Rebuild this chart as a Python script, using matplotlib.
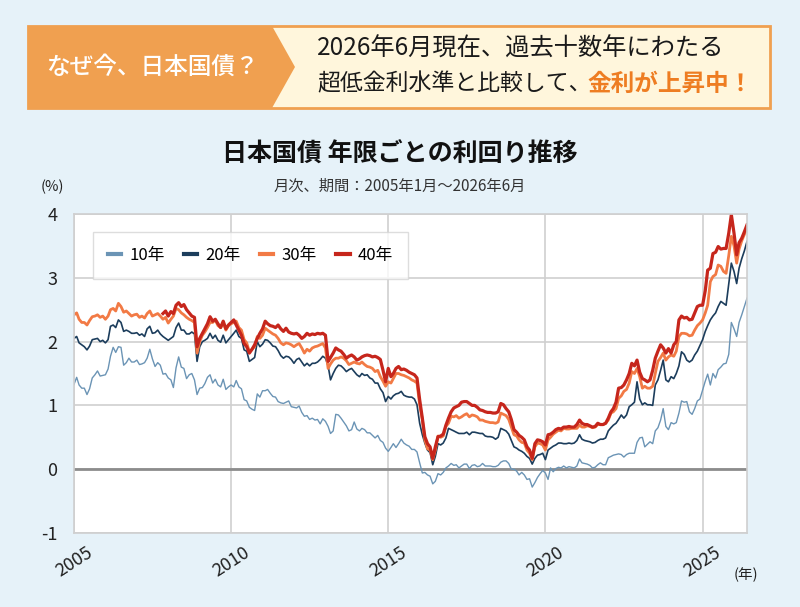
import numpy as np
import pandas as pd
import matplotlib
matplotlib.use("Agg")
import matplotlib.pyplot as plt
import matplotlib.dates as mdates
from matplotlib.patches import Polygon, Rectangle

plt.rcParams['font.family'] = ['Noto Sans CJK JP', 'DejaVu Sans']
plt.rcParams['axes.unicode_minus'] = False

# monthly yields (%), Jan 2005 - Jun 2026
y10 = [
    1.33, 1.44, 1.32, 1.27, 1.27, 1.17, 1.26, 1.43, 1.48, 1.54, 1.46, 1.47,  # 2005
    1.48, 1.57, 1.77, 1.91, 1.83, 1.92, 1.91, 1.63, 1.67, 1.74, 1.68, 1.68,  # 2006
    1.71, 1.64, 1.65, 1.67, 1.74, 1.88, 1.73, 1.61, 1.67, 1.63, 1.49, 1.50,  # 2007
    1.43, 1.40, 1.28, 1.59, 1.76, 1.60, 1.58, 1.42, 1.48, 1.50, 1.40, 1.17,  # 2008
    1.27, 1.28, 1.34, 1.44, 1.48, 1.35, 1.41, 1.32, 1.29, 1.41, 1.25, 1.29,  # 2009
    1.32, 1.29, 1.39, 1.29, 1.26, 1.09, 1.07, 0.97, 0.94, 0.92, 1.18, 1.13,  # 2010
    1.23, 1.23, 1.25, 1.19, 1.14, 1.13, 1.06, 1.04, 1.03, 1.05, 1.07, 0.98,  # 2011
    0.97, 0.96, 0.99, 0.89, 0.83, 0.84, 0.78, 0.80, 0.77, 0.78, 0.71, 0.79,  # 2012
    0.75, 0.67, 0.56, 0.60, 0.86, 0.85, 0.80, 0.74, 0.68, 0.60, 0.62, 0.74,  # 2013
    0.63, 0.60, 0.64, 0.62, 0.57, 0.57, 0.53, 0.49, 0.53, 0.45, 0.42, 0.33,  # 2014
    0.28, 0.34, 0.40, 0.34, 0.40, 0.47, 0.41, 0.38, 0.36, 0.31, 0.31, 0.27,  # 2015
    0.10, -0.06, -0.05, -0.09, -0.11, -0.23, -0.19, -0.07, -0.09, -0.05, 0.02, 0.05,  # 2016
    0.09, 0.06, 0.07, 0.02, 0.05, 0.08, 0.08, 0.01, 0.06, 0.07, 0.04, 0.05,  # 2017
    0.09, 0.05, 0.05, 0.05, 0.04, 0.04, 0.06, 0.11, 0.13, 0.13, 0.09, 0.00,  # 2018
    0.00, -0.03, -0.09, -0.05, -0.09, -0.16, -0.15, -0.28, -0.21, -0.13, -0.07, -0.02,  # 2019
    -0.06, -0.16, 0.02, -0.04, 0.01, 0.03, 0.02, 0.05, 0.02, 0.04, 0.03, 0.02,  # 2020
    0.05, 0.16, 0.10, 0.09, 0.08, 0.06, 0.02, 0.03, 0.07, 0.10, 0.07, 0.07,  # 2021
    0.18, 0.20, 0.22, 0.23, 0.24, 0.23, 0.19, 0.23, 0.25, 0.25, 0.25, 0.42,  # 2022
    0.49, 0.50, 0.35, 0.39, 0.43, 0.40, 0.60, 0.65, 0.77, 0.95, 0.67, 0.62,  # 2023
    0.73, 0.71, 0.73, 0.88, 1.07, 1.05, 1.06, 0.90, 0.86, 0.95, 1.07, 1.10,  # 2024
    1.24, 1.38, 1.49, 1.32, 1.50, 1.43, 1.56, 1.60, 1.65, 1.66, 1.80, 2.30,  # 2025
    2.20, 2.08, 2.30, 2.42, 2.55, 2.68,  # 2026
]

y20 = [
    2.05, 2.08, 1.98, 1.95, 1.92, 1.87, 1.93, 2.03, 2.04, 2.05, 2.00, 2.02,
    1.98, 2.03, 2.24, 2.26, 2.22, 2.34, 2.30, 2.16, 2.18, 2.16, 2.13, 2.13,
    2.14, 2.10, 2.12, 2.08, 2.20, 2.24, 2.13, 2.14, 2.18, 2.12, 2.08, 2.05,
    2.02, 2.05, 2.08, 2.22, 2.29, 2.18, 2.18, 2.12, 2.12, 2.15, 2.12, 1.69,
    1.92, 2.00, 2.02, 2.05, 2.13, 2.05, 2.10, 2.02, 1.99, 2.10, 1.98, 2.03,
    2.08, 2.13, 2.18, 2.08, 2.05, 1.87, 1.85, 1.69, 1.72, 1.75, 2.00, 1.92,
    1.96, 2.03, 2.02, 1.98, 1.93, 1.92, 1.86, 1.78, 1.74, 1.77, 1.76, 1.72,
    1.66, 1.72, 1.74, 1.68, 1.62, 1.66, 1.62, 1.66, 1.66, 1.68, 1.72, 1.77,
    1.74, 1.62, 1.40, 1.50, 1.58, 1.63, 1.62, 1.58, 1.53, 1.56, 1.58, 1.53,
    1.48, 1.45, 1.50, 1.47, 1.48, 1.43, 1.41, 1.35, 1.35, 1.26, 1.20, 1.06,
    1.14, 1.10, 1.15, 1.18, 1.19, 1.22, 1.16, 1.14, 1.13, 1.13, 1.10, 1.01,
    0.72, 0.54, 0.41, 0.30, 0.26, 0.07, 0.20, 0.40, 0.38, 0.41, 0.49, 0.64,
    0.62, 0.60, 0.58, 0.56, 0.56, 0.56, 0.58, 0.54, 0.58, 0.58, 0.57, 0.56,
    0.56, 0.52, 0.51, 0.51, 0.50, 0.47, 0.50, 0.64, 0.62, 0.60, 0.55, 0.45,
    0.35, 0.33, 0.30, 0.28, 0.25, 0.20, 0.17, 0.08, 0.17, 0.22, 0.23, 0.25,
    0.15, 0.30, 0.33, 0.36, 0.38, 0.41, 0.41, 0.40, 0.40, 0.41, 0.40, 0.41,
    0.45, 0.54, 0.47, 0.45, 0.44, 0.43, 0.41, 0.42, 0.45, 0.47, 0.47, 0.49,
    0.60, 0.65, 0.69, 0.72, 0.78, 0.85, 0.80, 0.85, 0.98, 1.01, 1.05, 1.37,
    1.10, 1.01, 1.04, 1.01, 1.01, 1.00, 1.32, 1.40, 1.55, 1.71, 1.40, 1.37,
    1.45, 1.42, 1.50, 1.62, 1.84, 1.80, 1.71, 1.68, 1.71, 1.79, 1.85, 1.94,
    2.03, 2.16, 2.25, 2.34, 2.40, 2.45, 2.55, 2.63, 2.60, 2.57, 2.90, 3.23,
    3.10, 2.91, 3.15, 3.30, 3.42, 3.57,
]

y30 = [
    2.42, 2.45, 2.35, 2.30, 2.30, 2.26, 2.33, 2.39, 2.40, 2.42, 2.38, 2.40,
    2.35, 2.40, 2.50, 2.52, 2.48, 2.60, 2.55, 2.46, 2.48, 2.44, 2.40, 2.42,
    2.43, 2.38, 2.40, 2.37, 2.44, 2.48, 2.40, 2.42, 2.44, 2.40, 2.35, 2.38,
    2.29, 2.35, 2.40, 2.52, 2.50, 2.45, 2.42, 2.38, 2.35, 2.33, 2.30, 1.82,
    2.00, 2.10, 2.15, 2.22, 2.30, 2.30, 2.34, 2.25, 2.22, 2.30, 2.18, 2.25,
    2.28, 2.30, 2.32, 2.22, 2.18, 2.03, 1.98, 1.84, 1.88, 1.92, 2.08, 2.05,
    2.10, 2.21, 2.18, 2.15, 2.12, 2.10, 2.05, 1.98, 1.95, 1.98, 1.97, 1.95,
    1.92, 1.95, 1.97, 1.90, 1.82, 1.88, 1.85, 1.90, 1.92, 1.93, 1.95, 1.97,
    1.90, 1.58, 1.65, 1.71, 1.74, 1.74, 1.76, 1.74, 1.70, 1.64, 1.66, 1.68,
    1.66, 1.65, 1.68, 1.64, 1.61, 1.60, 1.58, 1.53, 1.55, 1.45, 1.38, 1.30,
    1.37, 1.35, 1.42, 1.50, 1.50, 1.48, 1.47, 1.45, 1.43, 1.40, 1.38, 1.35,
    1.01, 0.78, 0.46, 0.32, 0.30, 0.15, 0.30, 0.52, 0.50, 0.52, 0.67, 0.72,
    0.83, 0.82, 0.84, 0.80, 0.82, 0.85, 0.87, 0.82, 0.85, 0.84, 0.82, 0.77,
    0.77, 0.75, 0.74, 0.73, 0.73, 0.72, 0.74, 0.88, 0.86, 0.84, 0.78, 0.66,
    0.54, 0.52, 0.46, 0.42, 0.41, 0.30, 0.25, 0.15, 0.35, 0.41, 0.40, 0.38,
    0.30, 0.46, 0.50, 0.55, 0.58, 0.61, 0.60, 0.64, 0.63, 0.63, 0.64, 0.64,
    0.64, 0.69, 0.66, 0.66, 0.68, 0.67, 0.65, 0.66, 0.70, 0.70, 0.70, 0.72,
    0.77, 0.88, 0.90, 0.95, 1.11, 1.15, 1.22, 1.25, 1.35, 1.53, 1.50, 1.58,
    1.45, 1.27, 1.30, 1.27, 1.27, 1.30, 1.50, 1.69, 1.75, 1.82, 1.71, 1.76,
    1.79, 1.77, 1.85, 2.08, 2.13, 2.13, 2.12, 2.09, 2.10, 2.18, 2.25, 2.29,
    2.34, 2.45, 2.57, 2.94, 3.02, 3.05, 3.20, 3.18, 3.10, 3.07, 3.35, 3.65,
    3.50, 3.23, 3.45, 3.58, 3.68, 3.78,
]

# 40-year bond starts Nov 2007
y40 = [
    2.44, 2.48,  # 2007 Nov-Dec
    2.40, 2.47, 2.44, 2.57, 2.61, 2.55, 2.58, 2.50, 2.45, 2.40, 2.38, 1.92,
    2.05, 2.13, 2.20, 2.28, 2.39, 2.32, 2.35, 2.28, 2.22, 2.32, 2.20, 2.26,
    2.30, 2.34, 2.26, 2.18, 2.10, 1.97, 1.92, 1.82, 1.88, 1.95, 2.05, 2.13,
    2.20, 2.32, 2.28, 2.25, 2.24, 2.22, 2.26, 2.20, 2.16, 2.21, 2.15, 2.13,
    2.12, 2.13, 2.10, 2.05, 2.08, 2.13, 2.10, 2.12, 2.11, 2.13, 2.12, 2.13,
    2.10, 1.69, 1.75, 1.82, 1.90, 1.87, 1.85, 1.80, 1.74, 1.77, 1.79, 1.76,
    1.71, 1.73, 1.76, 1.78, 1.79, 1.78, 1.76, 1.77, 1.75, 1.72, 1.55, 1.37,
    1.58, 1.45, 1.50, 1.58, 1.61, 1.56, 1.57, 1.55, 1.52, 1.50, 1.48, 1.43,
    1.09, 0.80, 0.51, 0.40, 0.35, 0.17, 0.35, 0.51, 0.52, 0.55, 0.69, 0.80,
    0.90, 0.96, 0.98, 1.00, 1.05, 1.06, 1.06, 1.03, 1.00, 1.00, 0.97, 0.93,
    0.92, 0.90, 0.89, 0.89, 0.88, 0.88, 0.90, 1.03, 1.01, 0.95, 0.90, 0.78,
    0.62, 0.58, 0.53, 0.50, 0.46, 0.35, 0.30, 0.17, 0.40, 0.46, 0.45, 0.43,
    0.38, 0.54, 0.55, 0.58, 0.62, 0.64, 0.63, 0.66, 0.66, 0.67, 0.66, 0.66,
    0.70, 0.77, 0.72, 0.70, 0.70, 0.68, 0.66, 0.67, 0.72, 0.70, 0.70, 0.72,
    0.80, 0.90, 0.95, 1.05, 1.27, 1.28, 1.32, 1.40, 1.50, 1.66, 1.62, 1.71,
    1.52, 1.42, 1.40, 1.37, 1.40, 1.55, 1.74, 1.85, 1.95, 1.90, 1.82, 1.89,
    1.82, 1.95, 2.00, 2.34, 2.40, 2.37, 2.38, 2.34, 2.35, 2.45, 2.55, 2.57,
    2.57, 2.80, 3.12, 3.15, 3.38, 3.40, 3.49, 3.45, 3.46, 3.46, 3.70, 3.99,
    3.70, 3.36, 3.55, 3.62, 3.72, 3.83,
]

series_names = ['10年', '20年', '30年', '40年']
colors = ['#6b94b5', '#1c3d5c', '#f27a45', '#c6261c']
widths = [1.0, 1.2, 2.0, 2.3]

dates = pd.date_range('2005-01-01', periods=len(y10), freq='MS')
dates40 = pd.date_range('2007-11-01', periods=len(y40), freq='MS')

bg = '#e6f2f9'
fig = plt.figure(figsize=(8, 6.07), dpi=100, facecolor=bg)

# header / decoration layer in pixel coordinates
deco = fig.add_axes([0, 0, 1, 1])
deco.set_xlim(0, 800)
deco.set_ylim(607, 0)
deco.axis('off')

deco.add_patch(Rectangle((28, 26), 742, 82, facecolor='#fff6dc', edgecolor='#f0a050', lw=2))
deco.add_patch(Polygon([(28, 26), (272, 26), (295, 67), (272, 108), (28, 108)],
                       closed=True, facecolor='#f0a050', edgecolor='none'))
deco.text(152, 67, 'なぜ今、日本国債？', color='white', fontsize=17, ha='center', va='center',
          fontweight='medium')
deco.text(521, 49, '2026年6月現在、過去十数年にわたる', color='#1a1a1a', fontsize=17.5,
          ha='center', va='center')
t1 = deco.text(317, 84, '超低金利水準と比較して、', color='#1a1a1a', fontsize=16.5,
               ha='left', va='center')
deco.annotate('金利が上昇中！', xy=(1, 0.5), xycoords=t1, xytext=(-3, 0), textcoords='offset points',
              color='#ee7d22', fontsize=17, fontweight='bold', ha='left', va='center')

deco.text(400, 155, '日本国債 年限ごとの利回り推移', fontsize=18, fontweight='bold',
          ha='center', va='center', color='#111111')
deco.text(400, 186, '月次、期間：2005年1月～2026年6月', fontsize=11,
          ha='center', va='center', color='#333333')
deco.text(52, 187, '(%)', fontsize=10.5, ha='center', va='center', color='#222222')
deco.text(746, 575, '(年)', fontsize=10.5, ha='center', va='center', color='#222222')

# chart
ax = fig.add_axes([74 / 800, 1 - 533 / 607, 673 / 800, 319 / 607])
ax.set_facecolor('white')
ax.plot(dates, y10, color=colors[0], lw=widths[0], label=series_names[0])
ax.plot(dates, y20, color=colors[1], lw=widths[1], label=series_names[1])
ax.plot(dates, y30, color=colors[2], lw=widths[2], label=series_names[2])
ax.plot(dates40, y40, color=colors[3], lw=widths[3], label=series_names[3])
ax.axhline(0, color='#8c8c8c', lw=2, zorder=1)

ax.set_xlim(pd.Timestamp('2005-01-01'), pd.Timestamp('2026-06-01'))
ax.set_ylim(-1, 4)
ax.set_yticks([-1, 0, 1, 2, 3, 4])
ax.xaxis.set_major_locator(mdates.YearLocator(5))
ax.xaxis.set_major_formatter(mdates.DateFormatter('%Y'))
ax.grid(True, color='#cfcfcf', lw=1.2, zorder=0)
ax.set_axisbelow(True)
for s in ax.spines.values():
    s.set_color('#cfcfcf')
    s.set_linewidth(1.2)
ax.tick_params(length=0, labelsize=13, colors='#222222')
ax.tick_params(axis='x', pad=21)
ax.tick_params(axis='y', pad=12)
for lab in ax.get_xticklabels():
    lab.set_rotation(33)
    lab.set_ha('center')
    lab.set_va('center')
    lab.set_rotation_mode('anchor')

leg = ax.legend(loc='upper left', bbox_to_anchor=(0.028, 0.945), ncol=4, fontsize=12,
                frameon=True, fancybox=False, handlelength=0.8, handletextpad=0.5,
                columnspacing=1.15, borderpad=0.9, borderaxespad=0)
leg.get_frame().set_edgecolor('#d5d5d5')
leg.get_frame().set_linewidth(1.0)
for h in leg.get_lines():
    h.set_linewidth(3)

fig.savefig('out.png', dpi=100, facecolor=bg)
